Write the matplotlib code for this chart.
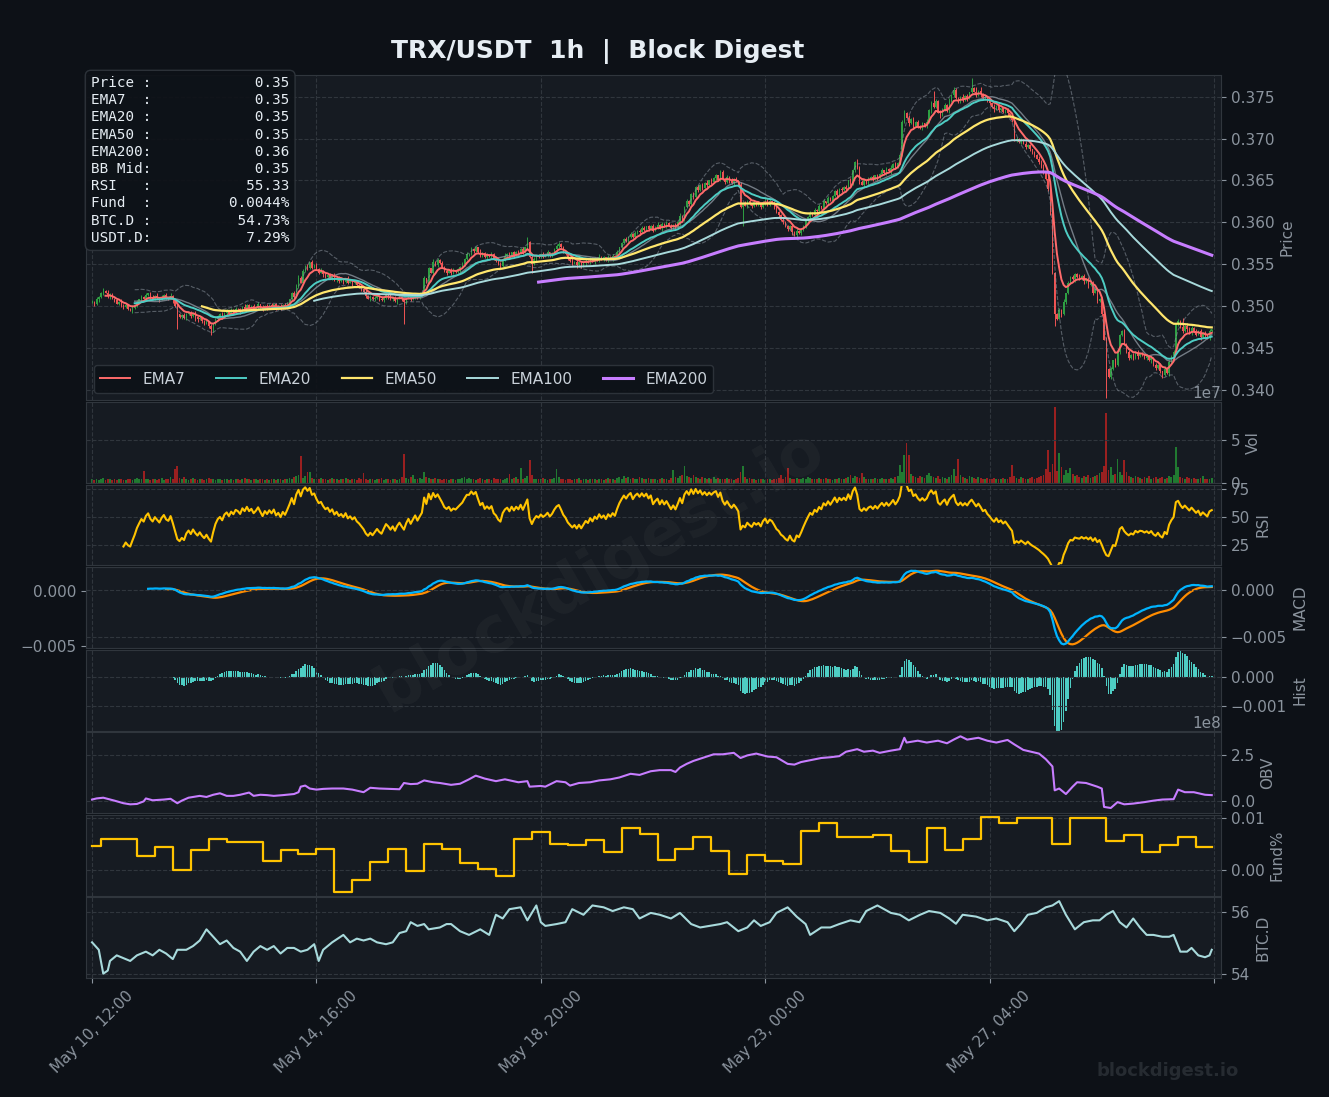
import numpy as np
import pandas as pd
import matplotlib
matplotlib.use("Agg")
import matplotlib.pyplot as plt

# ---- data --------------------------------------------------------------
# hourly closes TRX/USDT, in units of 1e-5 USDT (500 candles from May 10 12:00)
close_raw = [
    35050, 35020, 35080, 35110, 35150, 35180, 35160, 35120, 35140, 35090, 35070, 35030, 35050, 35000, 34990, 35010, 34970, 34950, 34980, 35010,
    35050, 35080, 35110, 35090, 35130, 35150, 35110, 35090, 35120, 35100, 35080, 35110, 35130, 35100, 35090, 35120, 35070, 35000, 34900, 34870,
    34890, 34860, 34900, 34920, 34880, 34910, 34870, 34840, 34860, 34820, 34790, 34810, 34760, 34720, 34780, 34840, 34880, 34900, 34870, 34920,
    34940, 34910, 34950, 34930, 34970, 34960, 34940, 34990, 34970, 35010, 34980, 35000, 34970, 34990, 35020, 34990, 34960, 35000, 34980, 35010,
    34990, 35020, 34980, 35000, 34970, 35010, 34990, 35030, 35080, 35150, 35110, 35240, 35330, 35280, 35420, 35480, 35450, 35520, 35460, 35490,
    35440, 35400, 35420, 35380, 35350, 35370, 35330, 35360, 35310, 35340, 35300, 35320, 35290, 35330, 35280, 35300, 35270, 35290, 35250, 35230,
    35200, 35170, 35120, 35090, 35110, 35080, 35100, 35120, 35090, 35070, 35100, 35130, 35110, 35080, 35100, 35060, 35090, 35110, 35080, 35050,
    35090, 35120, 35080, 35110, 35140, 35100, 35130, 35160, 35330, 35280, 35450, 35400, 35530, 35490, 35550, 35510, 35470, 35420, 35400, 35430,
    35390, 35420, 35410, 35440, 35470, 35500, 35560, 35620, 35620, 35680, 35660, 35700, 35650, 35600, 35630, 35580, 35610, 35590, 35620, 35560,
    35540, 35500, 35480, 35560, 35600, 35620, 35590, 35640, 35610, 35650, 35630, 35680, 35640, 35700, 35770, 35580, 35500, 35560, 35600, 35580,
    35620, 35590, 35610, 35640, 35600, 35630, 35680, 35720, 35740, 35700, 35650, 35620, 35570, 35540, 35510, 35530, 35490, 35520, 35480, 35510,
    35540, 35520, 35560, 35530, 35570, 35550, 35590, 35560, 35580, 35550, 35590, 35570, 35600, 35580, 35640, 35700, 35750, 35800, 35780, 35830,
    35860, 35820, 35870, 35900, 35880, 35930, 35910, 35950, 35920, 35960, 35900, 35940, 35970, 35930, 35980, 35950, 35990, 35960, 35930, 35970,
    35940, 36000, 36080, 36040, 36180, 36250, 36220, 36340, 36300, 36420, 36380, 36450, 36410, 36470, 36440, 36500, 36480, 36530, 36560, 36510,
    36600, 36520, 36480, 36540, 36500, 36470, 36520, 36490, 36450, 36180, 36230, 36200, 36260, 36220, 36190, 36240, 36210, 36230, 36180, 36240,
    36270, 36210, 36250, 36230, 36180, 36120, 36090, 36030, 36000, 35950, 35920, 35960, 35880, 35850, 35900, 35870, 35910, 35960, 36010, 36060,
    36110, 36090, 36150, 36130, 36190, 36170, 36250, 36230, 36290, 36260, 36310, 36370, 36330, 36400, 36380, 36420, 36400, 36500, 36460, 36620,
    36720, 36650, 36480, 36450, 36500, 36470, 36520, 36540, 36510, 36560, 36530, 36580, 36620, 36590, 36640, 36610, 36650, 36700, 36660, 36710,
    36800, 37200, 37300, 37250, 37180, 37230, 37150, 37200, 37150, 37120, 37180, 37150, 37200, 37340, 37420, 37380, 37450, 37310, 37280, 37350,
    37400, 37330, 37450, 37520, 37580, 37480, 37440, 37500, 37460, 37510, 37480, 37550, 37600, 37560, 37520, 37570, 37530, 37480, 37500, 37450,
    37420, 37380, 37350, 37390, 37340, 37360, 37320, 37340, 37300, 37260, 37220, 36980, 37000, 36960, 36980, 36940, 36900, 36920, 36870, 36830,
    36800, 36760, 36720, 36660, 36600, 36520, 36400, 36100, 35400, 34900, 34850, 34950, 34900, 35050, 35150, 35280, 35350, 35320, 35380, 35350,
    35330, 35360, 35300, 35320, 35250, 35280, 35160, 35200, 35060, 35090, 34900, 34600, 34250, 34150, 34250, 34350, 34300, 34450, 34650, 34700,
    34550, 34450, 34380, 34420, 34380, 34450, 34400, 34430, 34420, 34380, 34400, 34350, 34380, 34300, 34260, 34300, 34220, 34180, 34250, 34200,
    34330, 34400, 34450, 34780, 34820, 34750, 34700, 34760, 34720, 34680, 34740, 34700, 34660, 34700, 34630, 34680, 34650, 34620, 34700, 34720,
]

# candle wicks above / below the body, one digit per candle, units of 1e-4
wick_up_digits = "".join([
    "2131221312 1213212132 2121312213 1212131221 2321213121",
    "1213121231 2131212131 2121312121 3121213212 3243212131",
    "2131212131 2121312121 2131212312 1213121212 1312124231",
    "2131213121 2312131213 1213212131 2121312121 2131215312",
    "1213121231 2121312121 2131213121 2121312131 2131223121",
    "2131213121 2131232121 3121313121 2312131213 1213121212",
    "2131212131 2121312121 3121313121 2131213132 1423212131",
    "2131213121 3242313121 2131312131 2131322131 2121614121",
    "2131212131 2121313121 2132313231 2313121212 3121312121",
    "2131213121 2131213121 3121212131 2122213143 2121312121",
]).replace(" ", "")
wick_dn_digits = "".join([
    "1213121231 2121312131 2131213121 3121213121 2131215312",
    "2121312121 3121213121 2121312131 2131212121 3121212121",
    "1213121212 2131213121 2121312131 2121213121 3121312121",
    "2131212131 2121312121 3121213121 2131212131 2121312121",
    "1213121231 2121213121 3121312121 2131213121 2121312131",
    "2121312121 2131213121 2131212131 2121312121 2131212121",
    "3121213121 2131212131 2121312121 2131212131 2121312121",
    "2131213121 2121312131 2121312131 2131212121 3121213121",
    "2131212131 2121312121 2131213121 2131212131 2242313121",
    "2131213121 2131213121 2131212121 3121212131 2121312121",
]).replace(" ", "")

# the long wicks
long_low_idx = [38, 53, 139, 196, 290, 429, 452, 477]
long_low_val = [0.3472, 0.3466, 0.3478, 0.3539, 0.3596, 0.3476, 0.3390, 0.3414]
long_high_idx = [5, 194, 341, 375, 392, 486]
long_high_val = [0.3521, 0.3582, 0.3676, 0.3757, 0.3772, 0.3486]

# hourly volume, units of 1e6
volume_raw = [
    4, 3, 5, 3, 4, 6, 3, 4, 5, 3, 4, 3, 5, 4, 3, 3, 4, 5, 3, 4, 6, 4, 5, 14, 5,
    4, 3, 5, 4, 3, 4, 6, 3, 4, 5, 7, 4, 16, 19, 6, 5, 7, 4, 3, 5, 6, 4, 3, 5, 4,
    3, 4, 6, 5, 4, 3, 4, 5, 3, 4, 5, 3, 4, 3, 5, 4, 3, 4, 6, 5, 4, 3, 5, 4, 3,
    4, 5, 3, 4, 3, 5, 4, 3, 4, 5, 3, 4, 5, 6, 5, 7, 8, 9, 31, 6, 8, 12, 12, 6, 5,
    4, 5, 6, 4, 5, 3, 4, 6, 5, 4, 3, 5, 4, 6, 4, 3, 5, 4, 3, 6, 5, 11, 4, 3, 5,
    4, 3, 5, 4, 6, 3, 4, 5, 3, 4, 5, 3, 4, 7, 33, 6, 5, 7, 9, 5, 4, 6, 5, 13, 7,
    6, 5, 4, 6, 5, 4, 3, 5, 4, 3, 4, 5, 3, 4, 5, 6, 7, 5, 6, 4, 5, 3, 4, 6, 4,
    3, 4, 5, 3, 6, 4, 5, 4, 3, 5, 6, 10, 5, 6, 7, 5, 17, 4, 6, 8, 26, 9, 5, 4, 5,
    4, 6, 5, 3, 4, 5, 6, 16, 7, 5, 4, 3, 5, 4, 3, 5, 4, 6, 3, 4, 5, 3, 4, 5, 4,
    3, 4, 5, 3, 4, 6, 4, 5, 3, 6, 7, 5, 8, 6, 7, 5, 6, 4, 5, 7, 6, 5, 4, 6, 5,
    4, 5, 3, 4, 6, 5, 4, 3, 6, 15, 7, 6, 8, 9, 19, 8, 7, 6, 9, 7, 6, 5, 7, 6, 5,
    6, 5, 7, 4, 6, 5, 4, 5, 6, 4, 5, 3, 5, 6, 12, 19, 7, 5, 6, 4, 5, 3, 4, 5, 4,
    3, 4, 5, 3, 4, 5, 6, 9, 5, 7, 17, 6, 5, 4, 6, 5, 4, 6, 5, 7, 6, 5, 4, 5, 6,
    4, 5, 6, 4, 5, 3, 4, 5, 6, 4, 5, 6, 7, 9, 6, 8, 7, 6, 11, 7, 5, 4, 5, 4, 6,
    5, 4, 6, 5, 4, 5, 6, 5, 7, 8, 21, 12, 32, 46, 32, 10, 8, 7, 6, 8, 7, 6, 9, 11, 8,
    7, 6, 8, 5, 7, 6, 5, 7, 9, 16, 8, 28, 9, 7, 6, 5, 8, 7, 6, 5, 7, 6, 5, 4, 6,
    5, 4, 6, 5, 4, 5, 6, 5, 4, 7, 21, 8, 6, 5, 7, 6, 5, 4, 6, 7, 5, 6, 7, 8, 9,
    16, 38, 12, 22, 88, 14, 35, 18, 9, 15, 11, 17, 10, 8, 9, 7, 6, 8, 7, 9, 6, 7, 8, 9, 11,
    13, 20, 81, 15, 18, 9, 10, 28, 12, 9, 26, 13, 8, 7, 6, 8, 7, 6, 5, 7, 6, 8, 5, 6, 7,
    5, 6, 7, 5, 6, 8, 7, 9, 41, 18, 7, 6, 5, 7, 6, 5, 6, 4, 5, 6, 8, 5, 4, 5, 6,
]

# funding rate (%), one value per 8h settlement; first covers 12:00-16:00
fund_pct = [
    0.0047, 0.0059, 0.0059, 0.0026, 0.0045, 0.0000, 0.0039, 0.0059, 0.0054, 0.0054,
    0.0018, 0.0039, 0.0030, 0.0041, -0.0042, -0.0019, 0.0016, 0.0041, -0.0002, 0.0050,
    0.0041, 0.0013, 0.0001, -0.0011, 0.0060, 0.0073, 0.0051, 0.0049, 0.0057, 0.0034,
    0.0081, 0.0069, 0.0019, 0.0041, 0.0063, 0.0037, -0.0008, 0.0029, 0.0018, 0.0011,
    0.0075, 0.0090, 0.0064, 0.0064, 0.0067, 0.0037, 0.0015, 0.0081, 0.0039, 0.0060,
    0.0102, 0.0090, 0.0101, 0.0101, 0.0050, 0.0101, 0.0101, 0.0055, 0.0068, 0.0035,
    0.0048, 0.0064, 0.0044,
]

# BTC dominance (%), (candle index, value)
btc_points = [
    (0, 55.01), (3, 54.77), (5, 54.00), (7, 54.10), (8, 54.41), (11, 54.59), (13, 54.53), (17, 54.41),
    (20, 54.59), (24, 54.71), (27, 54.59), (30, 54.77), (33, 54.65), (36, 54.47), (38, 54.77), (42, 54.77),
    (45, 54.89), (48, 55.07), (51, 55.43), (54, 55.19), (57, 54.95), (60, 55.07), (63, 54.83), (66, 54.71),
    (69, 54.41), (72, 54.71), (75, 54.89), (78, 54.77), (81, 54.89), (84, 54.65), (87, 54.83), (90, 54.83),
    (93, 54.71), (96, 54.77), (99, 54.95), (101, 54.41), (103, 54.77), (107, 55.01), (112, 55.25), (115, 55.01),
    (118, 55.13), (121, 55.07), (124, 55.13), (127, 55.01), (131, 54.95), (134, 55.01), (137, 55.31), (140, 55.37),
    (142, 55.66), (145, 55.54), (148, 55.60), (150, 55.43), (155, 55.49), (158, 55.60), (160, 55.60), (164, 55.37),
    (168, 55.25), (173, 55.43), (177, 55.25), (180, 55.90), (183, 55.78), (186, 56.08), (191, 56.14), (194, 55.72),
    (198, 56.20), (200, 55.66), (202, 55.54), (207, 55.60), (211, 55.66), (214, 56.08), (219, 55.90), (223, 56.20),
    (228, 56.14), (232, 56.02), (237, 56.14), (241, 56.08), (244, 55.78), (249, 55.96), (253, 55.90), (258, 55.78),
    (262, 55.96), (267, 55.60), (271, 55.49), (275, 55.54), (280, 55.60), (283, 55.66), (288, 55.37), (292, 55.49),
    (295, 55.72), (298, 55.54), (302, 55.66), (305, 55.96), (310, 56.14), (314, 55.84), (318, 55.60), (320, 55.25),
    (325, 55.49), (329, 55.49), (333, 55.60), (338, 55.72), (342, 55.66), (345, 56.02), (350, 56.20), (356, 55.96),
    (360, 55.90), (364, 55.72), (369, 55.90), (373, 56.02), (378, 55.96), (382, 55.78), (385, 55.61), (388, 55.90),
    (394, 55.84), (399, 55.72), (403, 55.78), (408, 55.66), (411, 55.37), (414, 55.61), (417, 55.90), (421, 55.96),
    (425, 56.14), (428, 56.20), (431, 56.34), (434, 55.90), (438, 55.43), (442, 55.66), (446, 55.72), (449, 55.72),
    (452, 55.90), (455, 56.02), (458, 55.66), (461, 55.49), (464, 55.78), (467, 55.49), (470, 55.25), (473, 55.25),
    (477, 55.19), (480, 55.19), (482, 55.25), (485, 54.71), (488, 54.71), (490, 54.83), (493, 54.59), (496, 54.53),
    (498, 54.59), (499, 54.77),
]

# on-balance volume, (candle index, value in 1e8)
obv_points = [
    (0, 0.07), (2, 0.13), (5, 0.17), (10, 0.01), (14, -0.13), (17, -0.19), (20, -0.17), (23, -0.03),
    (24, 0.13), (27, 0.03), (32, 0.07), (35, 0.11), (38, -0.13), (40, 0.01), (43, 0.17), (45, 0.21),
    (48, 0.27), (51, 0.21), (54, 0.33), (57, 0.41), (60, 0.27), (63, 0.27), (66, 0.33), (70, 0.45),
    (72, 0.27), (75, 0.33), (78, 0.31), (81, 0.27), (85, 0.31), (90, 0.37), (92, 0.47), (93, 0.77),
    (95, 0.83), (97, 0.67), (100, 0.61), (103, 0.65), (107, 0.67), (112, 0.67), (116, 0.61), (121, 0.47),
    (124, 0.71), (128, 0.67), (133, 0.65), (137, 0.63), (139, 0.97), (142, 0.91), (145, 0.93), (148, 1.11),
    (152, 1.01), (155, 0.97), (160, 0.87), (164, 0.93), (168, 1.17), (171, 1.37), (175, 1.21), (180, 1.07),
    (184, 1.17), (190, 1.01), (194, 1.07), (195, 0.77), (200, 0.81), (202, 0.77), (207, 1.07), (211, 1.01),
    (213, 0.83), (217, 0.97), (222, 1.01), (226, 1.11), (231, 1.17), (235, 1.27), (240, 1.47), (244, 1.41),
    (249, 1.61), (253, 1.67), (258, 1.67), (260, 1.57), (262, 1.81), (265, 2.01), (268, 2.17), (273, 2.37),
    (277, 2.53), (281, 2.53), (286, 2.61), (289, 2.33), (292, 2.47), (296, 2.57), (301, 2.41), (305, 2.37),
    (310, 2.01), (313, 1.97), (316, 2.11), (320, 2.21), (325, 2.33), (329, 2.37), (333, 2.43), (336, 2.67),
    (341, 2.81), (344, 2.67), (348, 2.73), (351, 2.61), (356, 2.73), (360, 2.81), (362, 3.43), (363, 3.17),
    (368, 3.27), (372, 3.17), (377, 3.27), (381, 3.13), (384, 3.33), (387, 3.51), (390, 3.33), (395, 3.43),
    (399, 3.27), (403, 3.17), (408, 3.31), (411, 3.07), (415, 2.77), (420, 2.63), (422, 2.57), (425, 2.27),
    (428, 1.87), (429, 0.57), (431, 0.67), (434, 0.37), (437, 0.77), (439, 1.01), (443, 0.97), (448, 0.77),
    (450, 0.67), (451, -0.33), (454, -0.39), (457, -0.07), (460, -0.19), (464, -0.15), (469, -0.07), (473, 0.01),
    (477, 0.07), (482, 0.09), (484, 0.61), (487, 0.47), (491, 0.47), (496, 0.33), (499, 0.31),
]

info_labels = ["Price", "EMA7", "EMA20", "EMA50", "EMA200", "BB Mid", "RSI", "Fund", "BTC.D", "USDT.D"]
info_values = ["0.35", "0.35", "0.35", "0.35", "0.36", "0.35", "55.33", "0.0044%", "54.73%", "7.29%"]

# ---- colours -------------------------------------------------------------
BG = "#0d1117"
PANEL = "#161b22"
EDGE = "#30363d"
MUTED = "#8b949e"
TXT = "#e6edf3"
UP = "#2ea043"
DOWN = "#f05454"

# ---- indicators ----------------------------------------------------------
N = len(close_raw)
times = pd.date_range("2025-05-10 12:00", periods=N, freq="h")
x = np.arange(N)
close = pd.Series(np.array(close_raw) * 1e-5)
opens = close.shift(1).fillna(close.iloc[0])
body_hi = np.maximum(opens, close).values
body_lo = np.minimum(opens, close).values
highs = body_hi + np.array([int(c) for c in wick_up_digits]) * 1e-4
lows = body_lo - np.array([int(c) for c in wick_dn_digits]) * 1e-4
highs[long_high_idx] = np.maximum(highs[long_high_idx], long_high_val)
lows[long_low_idx] = np.minimum(lows[long_low_idx], long_low_val)
is_up = (close >= opens).values
volume = np.array(volume_raw) * 1e6

ema = {n: close.ewm(span=n, adjust=False, min_periods=n).mean() for n in (7, 20, 50, 100, 200)}
bb_mid = close.rolling(20).mean()
bb_std = close.rolling(20).std()
bb_up = bb_mid + 2 * bb_std
bb_lo = bb_mid - 2 * bb_std

# Wilder RSI
delta = close.diff()
gain = delta.clip(lower=0).ewm(alpha=1 / 14, adjust=False, min_periods=14).mean()
loss = (-delta.clip(upper=0)).ewm(alpha=1 / 14, adjust=False, min_periods=14).mean()
rsi = 100 - 100 / (1 + gain / loss)

macd = close.ewm(span=12, adjust=False, min_periods=12).mean() - close.ewm(span=26, adjust=False, min_periods=26).mean()
signal = macd.ewm(span=9, adjust=False, min_periods=9).mean()
hist = macd - signal

fund_x = [0] + [4 + 8 * k for k in range(len(fund_pct) - 1)]
btc_x, btc_y = zip(*btc_points)
obv_x, obv_y = zip(*obv_points)

# ---- figure --------------------------------------------------------------
fig = plt.figure(figsize=(13.29, 10.97), dpi=100, facecolor=BG)
gs = fig.add_gridspec(8, 1, height_ratios=[4.02, 1, 1, 1, 1, 1, 1, 1], hspace=0.015,
                      left=0.0647, right=0.9187, top=0.9316, bottom=0.1082)
axes = []
for i in range(8):
    ax = fig.add_subplot(gs[i], sharex=axes[0] if axes else None)
    ax.set_facecolor(PANEL)
    for s in ax.spines.values():
        s.set_color(EDGE)
    ax.yaxis.tick_right()
    ax.yaxis.set_label_position("right")
    ax.tick_params(colors=MUTED, labelsize=11)
    ax.yaxis.get_offset_text().set_color(MUTED)
    ax.yaxis.get_offset_text().set_fontsize(11)
    ax.grid(True, ls="--", lw=0.8, color=EDGE)
    axes.append(ax)
ax_p, ax_v, ax_r, ax_m, ax_h, ax_o, ax_f, ax_b = axes

# price panel
cols = np.where(is_up, UP, DOWN)
ax_p.vlines(x, lows, highs, colors=cols, lw=0.7, zorder=2)
ax_p.bar(x, np.maximum(body_hi - body_lo, 0.00003), bottom=body_lo, width=0.6, color=cols, zorder=2)
ax_p.plot(x, bb_up, ls="--", lw=0.8, color=MUTED, alpha=0.55, zorder=3)
ax_p.plot(x, bb_lo, ls="--", lw=0.8, color=MUTED, alpha=0.55, zorder=3)
ax_p.plot(x, bb_mid, lw=1.0, color=MUTED, alpha=0.8, zorder=3)
ax_p.plot(x, ema[7], color="#ff6b6b", lw=1.4, label="EMA7", zorder=4)
ax_p.plot(x, ema[20], color="#4ecdc4", lw=1.4, label="EMA20", zorder=4)
ax_p.plot(x, ema[50], color="#ffe66d", lw=1.6, label="EMA50", zorder=4)
ax_p.plot(x, ema[100], color="#a8dadc", lw=1.4, label="EMA100", zorder=4)
ax_p.plot(x, ema[200], color="#c77dff", lw=2.2, label="EMA200", zorder=4)
ax_p.set_ylim(0.33875, 0.37758)
ax_p.set_ylabel("Price", color=MUTED, fontsize=11)
leg = ax_p.legend(loc="lower left", ncol=5, fontsize=11, facecolor=BG, edgecolor=EDGE,
                  framealpha=0.9, labelcolor="#c9d1d9")
info = "\n".join(f"{k:<6}:{v:>16}" for k, v in zip(info_labels, info_values))
ax_p.text(0.0044, 0.997, info, transform=ax_p.transAxes, va="top", ha="left",
          family="DejaVu Sans Mono", fontsize=10.3, linespacing=1.29, color=TXT, zorder=10,
          bbox=dict(boxstyle="round,pad=0.4", fc=BG, ec=EDGE, alpha=0.9))

# volume
ax_v.bar(x, volume, width=0.8, color=np.where(is_up, "#217a31", "#9a2020"))
ax_v.set_ylim(0, 9.35e7)
ax_v.set_ylabel("Vol", color=MUTED, fontsize=11)

# RSI
ax_r.plot(x, rsi, color="#ffc300", lw=1.5)
ax_r.set_ylim(6.6, 79)
ax_r.set_ylabel("RSI", color=MUTED, fontsize=11)

# MACD (signal on the left scale, MACD line on a twin right scale)
ax_m.plot(x, signal, color="#ff8c00", lw=1.6)
ax_m2 = ax_m.twinx()
ax_m2.plot(x, macd, color="#00b4ff", lw=1.6)
ax_m.yaxis.grid(False)
ax_m.tick_params(colors=MUTED, labelsize=11)
ax_m2.tick_params(colors=MUTED, labelsize=11)
for s in ax_m2.spines.values():
    s.set_color(EDGE)
ax_m2.grid(True, axis="y", ls="--", lw=0.8, color=EDGE)
ax_m2.set_ylabel("MACD", color=MUTED, fontsize=11)

# histogram
ax_h.bar(x, hist, width=0.7, color="#4ecdc4")
ax_h.set_ylim(-0.00184, 0.00095)
ax_h.set_ylabel("Hist", color=MUTED, fontsize=11)

# OBV
ax_o.plot(np.array(obv_x), np.array(obv_y) * 1e8, color="#c77dff", lw=1.5)
ax_o.set_ylim(-0.67e8, 3.73e8)
ax_o.set_ylabel("OBV", color=MUTED, fontsize=11)

# funding
ax_f.step(list(fund_x) + [N - 1], list(fund_pct) + [fund_pct[-1]], where="post", color="#ffc300", lw=1.6)
ax_f.set_ylim(-0.00498, 0.01065)
ax_f.set_ylabel("Fund%", color=MUTED, fontsize=11)

# BTC dominance
ax_b.plot(btc_x, btc_y, color="#a8dadc", lw=1.5)
ax_b.set_ylim(53.85, 56.46)
ax_b.set_ylabel("BTC.D", color=MUTED, fontsize=11)

# shared x axis
tick_pos = [0, 100, 200, 300, 400, 500]
tick_lab = [times[i].strftime("%b %d, %H:%M") if i < N else "" for i in tick_pos]
ax_b.set_xlim(-2.7, 503.1)
ax_b.set_xticks(tick_pos)
ax_b.set_xticklabels(tick_lab)
for ax in axes[:-1]:
    ax.tick_params(axis="x", length=0, labelbottom=False)
ax_b.tick_params(axis="x", labelrotation=45, labelsize=11, colors=MUTED)

fig.suptitle("TRX/USDT  1h  |  Block Digest", x=0.45, y=0.9526, va="center",
             fontsize=18, fontweight="bold", color=TXT)
fig.text(0.451, 0.48, "blockdigest.io", fontsize=46, fontweight="bold", rotation=30,
         color="white", alpha=0.035, ha="center", va="center")
fig.text(0.932, 0.024, "blockdigest.io", fontsize=13, fontweight="bold",
         color=MUTED, alpha=0.2, ha="right", va="center")

fig.savefig("out.png", dpi=100, facecolor=BG)
